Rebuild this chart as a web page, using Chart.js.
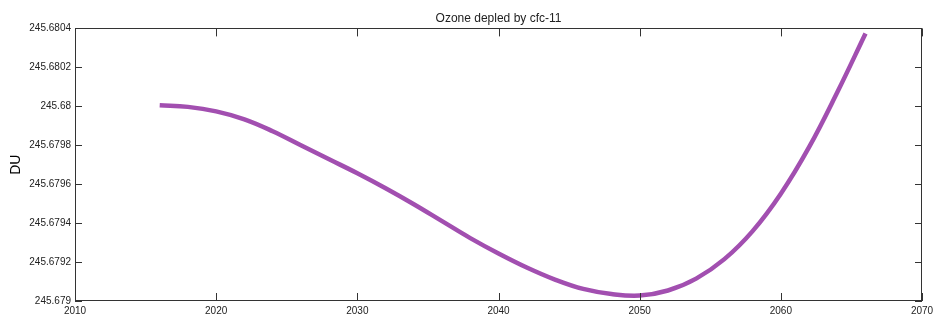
<!DOCTYPE html>
<html>
<head>
<meta charset="utf-8">
<script src="https://cdn.jsdelivr.net/npm/chart.js@4/dist/chart.umd.min.js"></script>
<style>
html,body{margin:0;padding:0;background:#fff;}
#wrap{width:935px;height:321px;}
</style>
</head>
<body>
<div id="wrap"><canvas id="c" width="935" height="321"></canvas></div>
<script>
const years = [2016,2018,2020,2022,2024,2026,2028,2030,2032,2034,2036,2038,2040,2042,2044,2046,2048,2050,2052,2054,2056,2058,2060,2062,2064,2066];
const ozone = [245.680005,245.679997,245.679974,245.679933,245.679872,245.679800,245.679728,245.679656,245.679579,245.679497,245.679410,245.679323,245.679244,245.679172,245.679110,245.679062,245.679036,245.679028,245.679054,245.679115,245.679215,245.679359,245.679551,245.679790,245.680072,245.680374];
const xTicks = [2010,2020,2030,2040,2050,2060,2070];
const yTicks = [245.679,245.6792,245.6794,245.6796,245.6798,245.68,245.6802,245.6804];
const titleText = 'Ozone depled by cfc-11';
const yTitle = 'DU';

const frameTicks = {
  id: 'frameTicks',
  afterDraw(chart) {
    const {ctx, chartArea: a, scales: {x, y}} = chart;
    ctx.save();
    ctx.strokeStyle = '#333';
    ctx.lineWidth = 1;
    ctx.beginPath();
    x.ticks.forEach(t => {
      const px = Math.round(x.getPixelForValue(t.value)) + 0.5;
      ctx.moveTo(px, a.bottom); ctx.lineTo(px, a.bottom - 8);
      ctx.moveTo(px, a.top); ctx.lineTo(px, a.top + 8);
    });
    y.ticks.forEach(t => {
      const py = Math.round(y.getPixelForValue(t.value)) + 0.5;
      ctx.moveTo(a.left, py); ctx.lineTo(a.left + 7, py);
      ctx.moveTo(a.right, py); ctx.lineTo(a.right - 7, py);
    });
    ctx.stroke();
    ctx.strokeRect(Math.round(a.left) + 0.5, Math.round(a.top) + 0.5, Math.round(a.width) - 1, Math.round(a.height) - 1);
    ctx.restore();
  }
};

new Chart(document.getElementById('c'), {
  type: 'line',
  data: {
    datasets: [{
      data: years.map((yr, i) => ({x: yr, y: ozone[i]})),
      borderColor: '#a24fb0',
      borderWidth: 4.5,
      pointRadius: 0,
      tension: 0.4,
      fill: false
    }]
  },
  options: {
    responsive: false,
    animation: false,
    layout: {padding: {left: 0, right: 13, top: 0, bottom: 0}},
    plugins: {
      legend: {display: false},
      tooltip: {enabled: false},
      title: {
        display: true,
        text: titleText,
        fullSize: false,
        color: '#222',
        font: {family: 'Liberation Sans, Arial, sans-serif', size: 12, weight: 'normal'},
        padding: {top: 11, bottom: 3}
      }
    },
    scales: {
      x: {
        type: 'linear',
        min: 2010, max: 2070,
        afterBuildTicks: s => { s.ticks = xTicks.map(v => ({value: v})); },
        afterFit: s => { s.height = 20; s.paddingLeft = 0; s.paddingRight = 0; },
        grid: {display: false, drawTicks: false},
        border: {display: false},
        ticks: {
          padding: 4,
          color: '#222',
          maxRotation: 0,
          font: {family: 'Liberation Sans, Arial, sans-serif', size: 10},
          callback: v => String(v)
        }
      },
      y: {
        type: 'linear',
        min: 245.679, max: 245.6804,
        afterBuildTicks: s => { s.ticks = yTicks.map(v => ({value: v})); },
        afterFit: s => { s.width = 75; s.paddingTop = 0; s.paddingBottom = 0; },
        grid: {display: false, drawTicks: false},
        border: {display: false},
        title: {
          display: true,
          text: yTitle,
          color: '#000',
          font: {family: 'Liberation Sans, Arial, sans-serif', size: 14},
          padding: {top: 8, bottom: 0}
        },
        ticks: {
          padding: 4,
          color: '#222',
          font: {family: 'Liberation Sans, Arial, sans-serif', size: 10},
          callback: v => String(Number(Number(v).toFixed(4)))
        }
      }
    }
  },
  plugins: [frameTicks]
});
</script>
</body>
</html>
